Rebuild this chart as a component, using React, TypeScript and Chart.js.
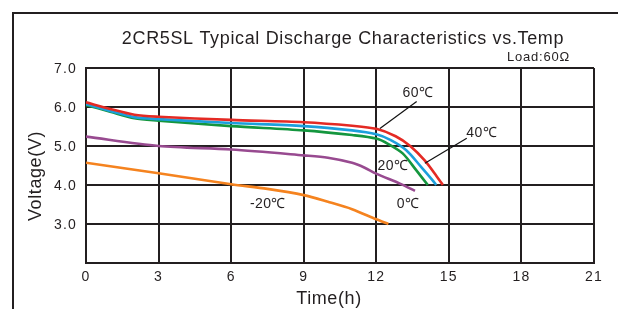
import React, { useEffect, useRef } from "react";
import { Chart, registerables } from "chart.js";

Chart.register(...registerables);

const TITLE = "2CR5SL Typical Discharge Characteristics vs.Temp";
const LOAD_TEXT = "Load:60Ω";
const X_TITLE = "Time(h)";
const Y_TITLE = "Voltage(V)";

const X_TICKS = [0, 3, 6, 9, 12, 15, 18, 21];
const Y_TICKS = [2, 3, 4, 5, 6, 7];

const TIME_60 = [0, 1, 2, 3, 6, 9, 11, 12, 12.8, 13.4, 14.0, 14.5, 14.75];
const VOLT_60 = [6.12, 5.95, 5.8, 5.75, 5.67, 5.61, 5.52, 5.44, 5.25, 5.0, 4.63, 4.22, 4.0];

const TIME_40 = [0, 1, 2, 3, 6, 9, 11, 12, 12.6, 13.24, 13.86, 14.33, 14.48];
const VOLT_40 = [6.07, 5.9, 5.74, 5.69, 5.59, 5.51, 5.4, 5.3, 5.15, 4.89, 4.46, 4.12, 4.0];

const TIME_20 = [0, 1, 2, 3, 6, 9, 11, 12, 12.5, 13.09, 13.65, 14.13];
const VOLT_20 = [6.05, 5.88, 5.71, 5.65, 5.51, 5.4, 5.28, 5.19, 5.05, 4.81, 4.38, 4.0];

const TIME_0 = [0, 3, 6, 9, 10, 11, 11.5, 12, 13, 13.6];
const VOLT_0 = [5.24, 5.0, 4.91, 4.76, 4.7, 4.57, 4.45, 4.29, 4.03, 3.85];

const TIME_M20 = [0, 3, 6, 7.5, 9, 10, 11, 12, 12.5];
const VOLT_M20 = [4.57, 4.3, 4.02, 3.9, 3.74, 3.57, 3.38, 3.12, 3.0];

const SERIES_NAMES = ["60℃", "40℃", "20℃", "0℃", "-20℃"];
const SERIES_COLORS = ["#e42a24", "#1c9fdc", "#14963e", "#984a90", "#f5831f"];

const NOTE_TEXT = ["60℃", "40℃", "20℃", "0℃", "-20℃"];
const NOTE_T = [13.72, 16.36, 12.69, 13.31, 7.52];
const NOTE_V = [6.36, 5.33, 4.49, 3.52, 3.52];

const LEADER_60_T = [13.67, 12.15];
const LEADER_60_V = [6.14, 5.45];
const LEADER_40_T = [15.74, 14.01];
const LEADER_40_V = [5.2, 4.56];

const INK = "#231f20";
const FONT = "'Liberation Sans', Arial, sans-serif";

function pts(t: number[], v: number[]) {
  return t.map((x, i) => ({ x, y: v[i] }));
}

const decorPlugin = {
  id: "decor",
  beforeDraw(chart: any) {
    const { ctx, width, height } = chart;
    ctx.save();
    ctx.fillStyle = "#ffffff";
    ctx.fillRect(0, 0, width, height);
    ctx.restore();
    (ctx as any).letterSpacing = "1.2px";
  },
  afterDraw(chart: any) {
    const { ctx } = chart;
    const xs = chart.scales.x;
    const ys = chart.scales.y;
    ctx.save();
    // outer frame
    ctx.strokeStyle = INK;
    ctx.lineWidth = 2;
    ctx.beginPath();
    ctx.moveTo(13, 309);
    ctx.lineTo(13, 13);
    ctx.lineTo(618, 13);
    ctx.stroke();

    ctx.fillStyle = INK;
    // title
    (ctx as any).letterSpacing = "0.65px";
    ctx.font = `18px ${FONT}`;
    ctx.textAlign = "center";
    ctx.textBaseline = "alphabetic";
    ctx.fillText(TITLE, 343, 43.5);
    // load text
    ctx.font = `13px ${FONT}`;
    (ctx as any).letterSpacing = "0.8px";
    ctx.textAlign = "left";
    ctx.fillText(LOAD_TEXT, 507, 61);

    // axis titles
    (ctx as any).letterSpacing = "0.6px";
    ctx.font = `18px ${FONT}`;
    ctx.textAlign = "center";
    ctx.textBaseline = "middle";
    ctx.fillText(X_TITLE, 329, 299);
    ctx.save();
    ctx.translate(36, 176);
    ctx.rotate(-Math.PI / 2);
    ctx.fillText(Y_TITLE, 0, 0);
    ctx.restore();

    // leaders
    ctx.lineWidth = 1.2;
    ctx.strokeStyle = "#111";
    const leaders = [
      [LEADER_60_T, LEADER_60_V],
      [LEADER_40_T, LEADER_40_V],
    ];
    leaders.forEach(([lt, lv]) => {
      ctx.beginPath();
      ctx.moveTo(xs.getPixelForValue(lt[0]), ys.getPixelForValue(lv[0]));
      ctx.lineTo(xs.getPixelForValue(lt[1]), ys.getPixelForValue(lv[1]));
      ctx.stroke();
    });

    // notes
    (ctx as any).letterSpacing = "0.4px";
    ctx.font = `14px ${FONT}`;
    ctx.textAlign = "center";
    ctx.textBaseline = "middle";
    NOTE_TEXT.forEach((txt, i) => {
      ctx.fillText(txt, xs.getPixelForValue(NOTE_T[i]), ys.getPixelForValue(NOTE_V[i]));
    });
    ctx.restore();
    (ctx as any).letterSpacing = "0px";
  },
};

export default function App() {
  const ref = useRef<HTMLCanvasElement | null>(null);
  useEffect(() => {
    if (!ref.current) return;
    const series = [
      pts(TIME_60, VOLT_60),
      pts(TIME_40, VOLT_40),
      pts(TIME_20, VOLT_20),
      pts(TIME_0, VOLT_0),
      pts(TIME_M20, VOLT_M20),
    ];
    const chart = new Chart(ref.current, {
      type: "line",
      data: {
        datasets: series.map((d, i) => ({
          label: SERIES_NAMES[i],
          data: d,
          borderColor: SERIES_COLORS[i],
          backgroundColor: SERIES_COLORS[i],
          borderWidth: 2.6,
          pointRadius: 0,
          tension: 0.3,
          fill: false,
        })),
      },
      options: {
        animation: false,
        responsive: false,
        devicePixelRatio: 1,
        layout: { padding: { left: 0, right: 24, top: 68, bottom: 0 } },
        plugins: {
          legend: { display: false },
          tooltip: { enabled: false },
          title: { display: false },
        },
        scales: {
          x: {
            type: "linear",
            min: X_TICKS[0],
            max: X_TICKS[X_TICKS.length - 1],
            afterBuildTicks: (s: any) => {
              s.ticks = X_TICKS.map((v) => ({ value: v }));
            },
            afterFit: (s: any) => {
              s.height = 46;
            },
            grid: { color: INK, lineWidth: 2, drawTicks: false },
            border: { color: INK, width: 2 },
            ticks: {
              color: INK,
              padding: 6,
              font: { family: FONT, size: 14 },
              callback: (v: any) => String(v),
            },
            title: { display: false, text: X_TITLE },
          },
          y: {
            type: "linear",
            min: Y_TICKS[0],
            max: Y_TICKS[Y_TICKS.length - 1],
            afterBuildTicks: (s: any) => {
              s.ticks = Y_TICKS.map((v) => ({ value: v }));
            },
            afterFit: (s: any) => {
              s.width = 86;
            },
            grid: { color: INK, lineWidth: 2, drawTicks: false },
            border: { color: INK, width: 2 },
            ticks: {
              color: INK,
              padding: 9,
              labelOffset: 1.5,
              font: { family: FONT, size: 14 },
              callback: (v: any) => (Number(v) === Y_TICKS[0] ? "" : Number(v).toFixed(1)),
            },
            title: { display: false, text: Y_TITLE },
          },
        },
      },
      plugins: [decorPlugin],
    } as any);
    return () => chart.destroy();
  }, []);
  return (
    <div style={{ position: "fixed", left: 0, top: 0, width: 618, height: 309, background: "#fff" }}>
      <canvas ref={ref} width={618} height={309} style={{ display: "block" }} />
    </div>
  );
}
